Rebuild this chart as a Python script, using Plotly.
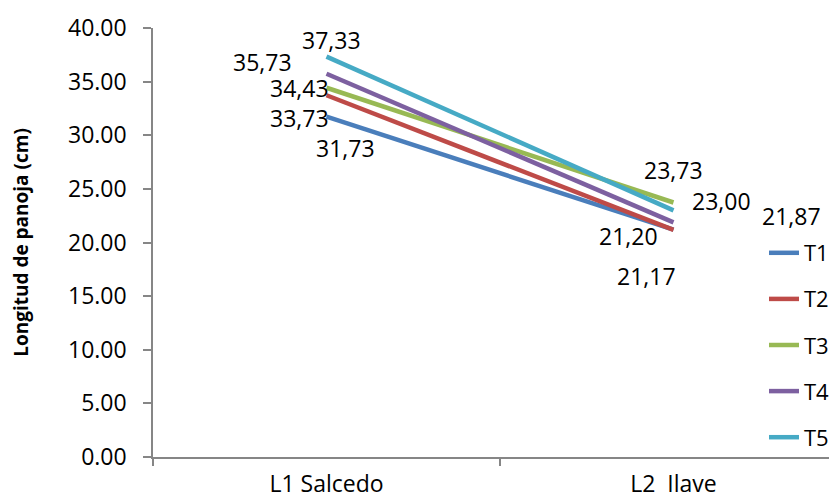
import plotly.graph_objects as go

categories = ["L1 Salcedo", "L2  Ilave"]
series_names = ["T1", "T2", "T3", "T4", "T5"]
t1 = [31.73, 21.20]
t2 = [33.73, 21.17]
t3 = [34.43, 23.73]
t4 = [35.73, 21.87]
t5 = [37.33, 23.00]
y_ticks = [0, 5, 10, 15, 20, 25, 30, 35, 40]

values = [t1, t2, t3, t4, t5]
colors = ["#4A7EBB", "#BE4B48", "#98B954", "#7D60A0", "#46AAC5"]

# pixel offsets of the (manually placed) data labels, per series per category
label_offsets = [
    [(18.5, -31.3), (-45.5, -6.4)],
    [(-27.5, -22.8), (-27.5, -46.0)],
    [(-27.5, -0.3), (0.0, 32.5)],
    [(-64.5, 11.8), (117.5, 6.4)],
    [(4.5, 16.6), (47.5, 9.3)],
]

FONT = "Open Sans"
# page body has an 8px default margin: size the figure so it fills the 837x501 window
W, H = 829, 493
ML, MT, MB, MR = 145, 20, 44, 0
PW = W - ML - MR
PH = H - MT - MB

fig = go.Figure()
for i, (name, vals) in enumerate(zip(series_names, values)):
    fig.add_trace(go.Scatter(
        x=categories, y=vals, name=name, mode="lines",
        line=dict(color=colors[i], width=4.5),
        legendgroup=name, hoverinfo="skip",
    ))

annotations = []
for i, vals in enumerate(values):
    for j, v in enumerate(vals):
        dx, dy = label_offsets[i][j]
        annotations.append(dict(
            x=categories[j], y=v, xref="x", yref="y",
            text=f"{v:.2f}".replace(".", ","), showarrow=False,
            xshift=dx, yshift=dy, xanchor="center", yanchor="middle",
            font=dict(family=FONT, size=23, color="#000000"),
        ))

axis_color = "#868686"
fig.update_layout(
    width=W, height=H,
    margin=dict(l=ML, r=MR, t=MT, b=MB, autoexpand=False),
    paper_bgcolor="white", plot_bgcolor="white",
    showlegend=True,
    legend=dict(
        x=(756 - ML) / PW, y=(PH - 204) / PH, xanchor="left", yanchor="top",
        font=dict(family=FONT, size=22, color="#000000"),
        tracegroupgap=14.5, bgcolor="rgba(0,0,0,0)", itemwidth=30,
    ),
    annotations=annotations,
    xaxis=dict(
        type="category", range=[-0.5, -0.5 + PW / 347],
        showgrid=False, zeroline=False, showline=True, linecolor=axis_color, linewidth=1.5,
        ticks="outside", tickson="boundaries", ticklen=7, tickcolor=axis_color, tickwidth=1.5,
        tickvals=categories, ticktext=["L1 Salcedo", "L2\u00a0\u00a0Ilave"],
        tickfont=dict(family=FONT, size=23, color="#000000"),
        ticklabelstandoff=6, automargin=False,
    ),
    yaxis=dict(
        range=[0, 40], tickvals=y_ticks, tickformat=".2f",
        showgrid=False, zeroline=False, showline=True, linecolor=axis_color, linewidth=1.5,
        ticks="outside", ticklen=8, tickcolor=axis_color, tickwidth=1.5,
        tickfont=dict(family=FONT, size=23, color="#000000"),
        ticklabelstandoff=12, automargin=False,
        title=dict(text="<b>Longitud de panoja (cm)</b>", font=dict(family=FONT, size=19, color="#000000"), standoff=36),
    ),
)

fig.write_html("out.html")
